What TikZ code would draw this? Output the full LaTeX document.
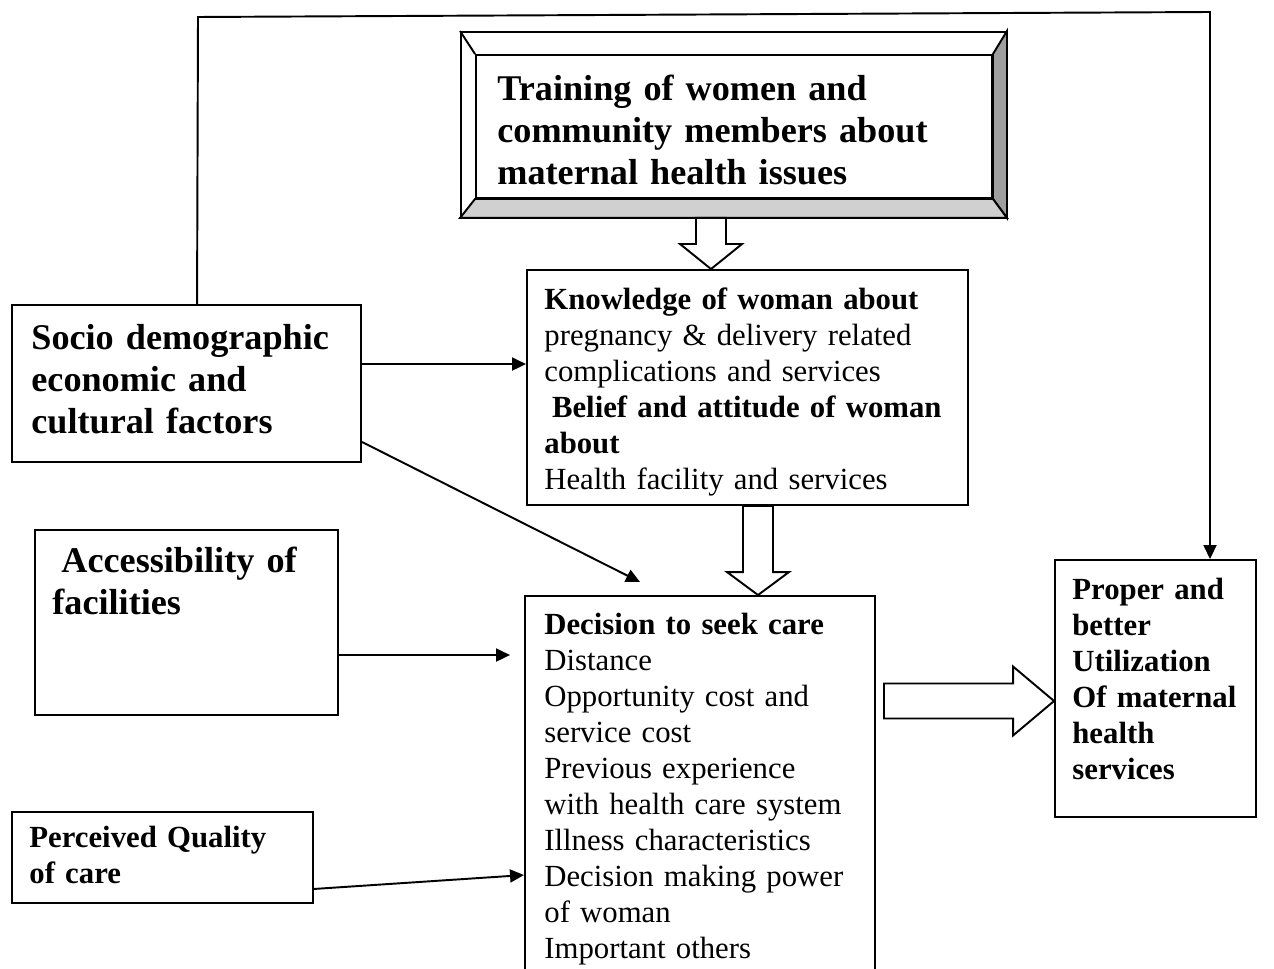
\documentclass[tikz,border=0pt]{standalone}
\usepackage{fontspec}
\setmainfont{Liberation Serif}
\usepackage{tikz}
\usetikzlibrary{arrows.meta,calc,fit}
\definecolor{bevelD}{HTML}{9E9E9E}
\definecolor{bevelL}{HTML}{D0D0D0}
\newcommand{\bigfs}{\fontsize{20.6}{23.9}\selectfont\bfseries}
\newcommand{\smallfs}{\fontsize{17.5}{20.5}\selectfont}
\tikzset{
  mbox/.style={draw,rectangle,line width=1.1pt,inner sep=0pt,fill=white},
  mtext/.style={anchor=base west,inner sep=0pt,align=left,font=\smallfs},
  mbig/.style={mtext,font=\bigfs},
  mlink/.style={line width=1.1pt,-{Triangle[length=0.28cm,width=0.26cm]}},
  mfat/.style={draw,fill=white,line width=1.1pt,line join=miter}
}
% fat down arrow: x coordinate, from, to, head length
\newcommand{\fatdown}[4]{\draw[mfat] ($(#1|-#2)+(-15,0)$) -- ($(#1|-#3)+(-15,-#4)$) -- ($(#1|-#3)+(-31,-#4)$) -- (#1|-#3)
  -- ($(#1|-#3)+(31,-#4)$) -- ($(#1|-#3)+(15,-#4)$) -- ($(#1|-#2)+(15,0)$) -- cycle;}

\begin{document}
\begin{tikzpicture}[x=0.02cm,y=-0.02cm]
\useasboundingbox (0,0) rectangle (1274,969);
% boxes
\node[mbox,fit={(461,32) (1006,217)}] (trainO) {};
\node[mbox,fit={(476,55) (992,198)}] (train) {};
\filldraw[fill=bevelD,line width=1.1pt] (trainO.north east) -- (train.north east) -- (train.south east) -- (trainO.south east) -- cycle;
\filldraw[fill=bevelL,line width=1.1pt] (trainO.south west) -- (train.south west) -- (train.south east) -- (trainO.south east) -- cycle;
\draw[line width=1.1pt] (trainO.north west) -- (train.north west);
\node[mbox,fit={(527,270) (968,505)}] (know) {};
\node[mbox,fit={(525,596) (875,980)}] (decide) {};
\node[mbox,fit={(12,305) (361,462)}] (socio) {};
\node[mbox,fit={(35,530) (338,715)}] (access) {};
\node[mbox,fit={(12,812) (313,903)}] (perc) {};
\node[mbox,fit={(1055,560) (1256,817)}] (proper) {};
% texts
\node[mbig,text width=9.5cm] (trainT) at ($(train.north west)+(22,46)$) {Training of women and\\community members about\\maternal health issues};
\node[mtext,text width=8.3cm] (knowT) at ($(know.north west)+(18,40)$) {\textbf{Knowledge of woman about}\\pregnancy \& delivery related\\complications and services\\\hspace*{0.25em}\textbf{Belief and attitude of woman}\\\textbf{about}\\Health facility and services};
\node[mtext,text width=6.5cm] (decideT) at ($(decide.north west)+(20,39)$) {\textbf{Decision to seek care}\\Distance\\Opportunity cost and\\service cost\\Previous experience\\with health care system\\Illness characteristics\\Decision making power\\of woman\\Important others};
\node[mbig,text width=6.5cm] (socioT) at ($(socio.north west)+(20,45)$) {Socio demographic\\economic and\\cultural factors};
\node[mbig,text width=5.6cm] (accessT) at ($(access.north west)+(18,43)$) {\hspace*{0.25em}Accessibility of\\facilities};
\node[mtext,text width=5.5cm,font=\smallfs\bfseries] (percT) at ($(perc.north west)+(18,36)$) {Perceived Quality\\of care};
\node[mtext,text width=3.6cm,font=\smallfs\bfseries] (properT) at ($(proper.north west)+(18,40)$) {Proper and\\better\\Utilization\\Of maternal\\health\\services};
% fat arrows
\coordinate (fa) at (711,0);
\coordinate (fb) at (758,0);
\coordinate (fc) at (0,701);
\fatdown{fa}{trainO.south}{know.north}{25}
\fatdown{fb}{know.south}{decide.north}{23}
\draw[mfat] ($(fc-|decide.east)+(8,-17.5)$) -- ($(fc-|proper.west)+(-41,-17.5)$) -- ($(fc-|proper.west)+(-41,-34.5)$) -- (fc-|proper.west)
  -- ($(fc-|proper.west)+(-41,34.5)$) -- ($(fc-|proper.west)+(-41,17.5)$) -- ($(fc-|decide.east)+(8,17.5)$) -- cycle;
% links
\coordinate (s1) at ($(socio.north east)+(0,60)$);
\draw[mlink] (s1) -- (s1-|know.west);
\coordinate (s2) at ($(socio.south east)+(0,-21)$);
\coordinate (dtip) at (640,582);
\draw[mlink] (s2) -- (dtip);
\coordinate (a1) at ($(access.north east)+(0,126)$);
\draw[mlink] (a1) -- ($(a1-|decide.west)+(-14,0)$);
\coordinate (p1) at ($(perc.south east)+(0,-15)$);
\coordinate (p2) at ($(decide.north west)+(0,280)$);
\draw[mlink] (p1) -- (p2);
\coordinate (t0) at ($(socio.north west)+(186,0)$);
\coordinate (t1) at (198,17);
\coordinate (t2) at (1210,12);
\draw[mlink] (t0) -- (t1) -- (t2) -- (t2|-proper.north);
\end{tikzpicture}
\end{document}
